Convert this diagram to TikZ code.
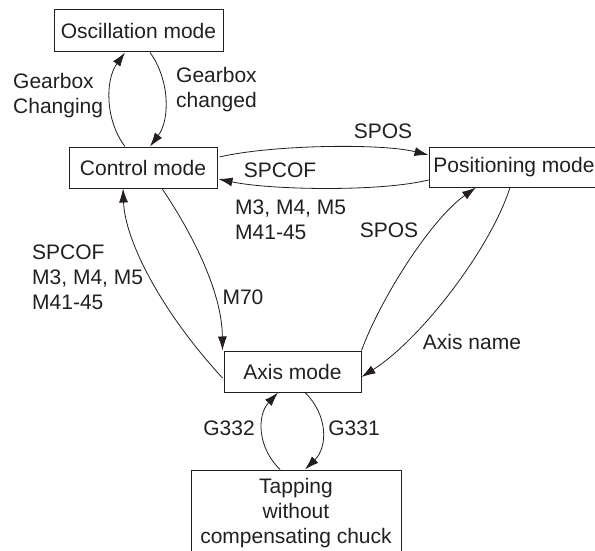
\documentclass[tikz,border=0pt]{standalone}
\usepackage{fontspec}
\setmainfont{Liberation Sans}
\usetikzlibrary{arrows.meta,calc}
\definecolor{ink}{HTML}{231F20}
\begin{document}
\begin{tikzpicture}[x=1pt,y=-1pt,
  font=\fontsize{21}{25}\selectfont, color=ink,
  box/.style={draw=ink, line width=1pt, inner sep=0pt, align=center},
  conn/.style={draw=ink, line width=0.8pt, -{Latex[length=14pt,width=9pt]}},
  lbl/.style={inner sep=0pt, align=left, text=ink}]
\useasboundingbox (0,0) rectangle (595,551);
\node[box, minimum width=169pt, minimum height=42pt] (osc) at (138.5,31) {Oscillation mode};
\node[box, minimum width=148pt, minimum height=41pt] (ctrl) at (143,167.5) {Control mode};
\node[box, minimum width=170pt, minimum height=40pt] (pos) at (514,167) {Positioning mode};
\node[box, minimum width=137pt, minimum height=41pt] (axis) at (292.5,371.5) {Axis mode};
\node[box, minimum width=210pt, minimum height=86pt] (tap) at (296,513) {Tapping\\without\\compensating chuck};
% Control <-> Oscillation
\draw[conn] ($(ctrl.north)+(-18,0)$) .. controls (105,120) and (105,80) .. ($(osc.south)+(-13.5,0)$);
\draw[conn] ($(osc.south)+(11.5,0)$) .. controls (170,80) and (170,120) .. ($(ctrl.north)+(7,0)$);
% Control <-> Positioning
\draw[conn] ($(ctrl.east)+(2,-10.5)$) .. controls (270,145) and (380,143) .. ($(pos.west)+(0,-12)$);
\draw[conn] ($(pos.west)+(0,13)$) .. controls (380,192) and (270,190) .. ($(ctrl.east)+(1,11.5)$);
% Control <-> Axis
\draw[conn] ($(ctrl.south)+(19,0)$) .. controls (190,230) and (222,290) .. ($(axis.north west)+(-1,0)$);
\draw[conn] ($(axis.west)+(-1,6.5)$) .. controls (160,310) and (125,240) .. ($(ctrl.south)+(-20,0)$);
% Axis <-> Positioning
\draw[conn] (axis.north east) .. controls (380,300) and (430,220) .. ($(pos.south)+(-38,0)$);
\draw[conn] ($(pos.south)+(-4,0)$) .. controls (490,250) and (420,340) .. ($(axis.east)+(0,5.5)$);
% Axis <-> Tapping
\draw[conn] ($(axis.south)+(12.5,0)$) .. controls (328,415) and (328,447) .. ($(tap.north)+(9,0)$);
\draw[conn] ($(tap.north)+(-16,0)$) .. controls (257,447) and (257,415) .. ($(axis.south)+(-14.5,0)$);
% Labels
\node[lbl, anchor=west] (l1) at (13,95.5) {Gearbox\\Changing};
\node[lbl, anchor=west] (l2) at (176,90) {Gearbox\\changed};
\node[lbl] (l3) at (383,131) {SPOS};
\node[lbl] (l4) at (280,170) {SPCOF};
\node[lbl, anchor=west] (l5) at (235,219.5) {M3, M4, M5\\M41-45};
\node[lbl] (l6) at (389,230) {SPOS};
\node[lbl] (l7) at (243,297) {M70};
\node[lbl, anchor=west] (l8) at (32,277) {SPCOF\\M3, M4, M5\\M41-45};
\node[lbl] (l9) at (472,342) {Axis name};
\node[lbl] (l10) at (229,428) {G332};
\node[lbl] (l11) at (354,428) {G331};
\end{tikzpicture}
\end{document}
